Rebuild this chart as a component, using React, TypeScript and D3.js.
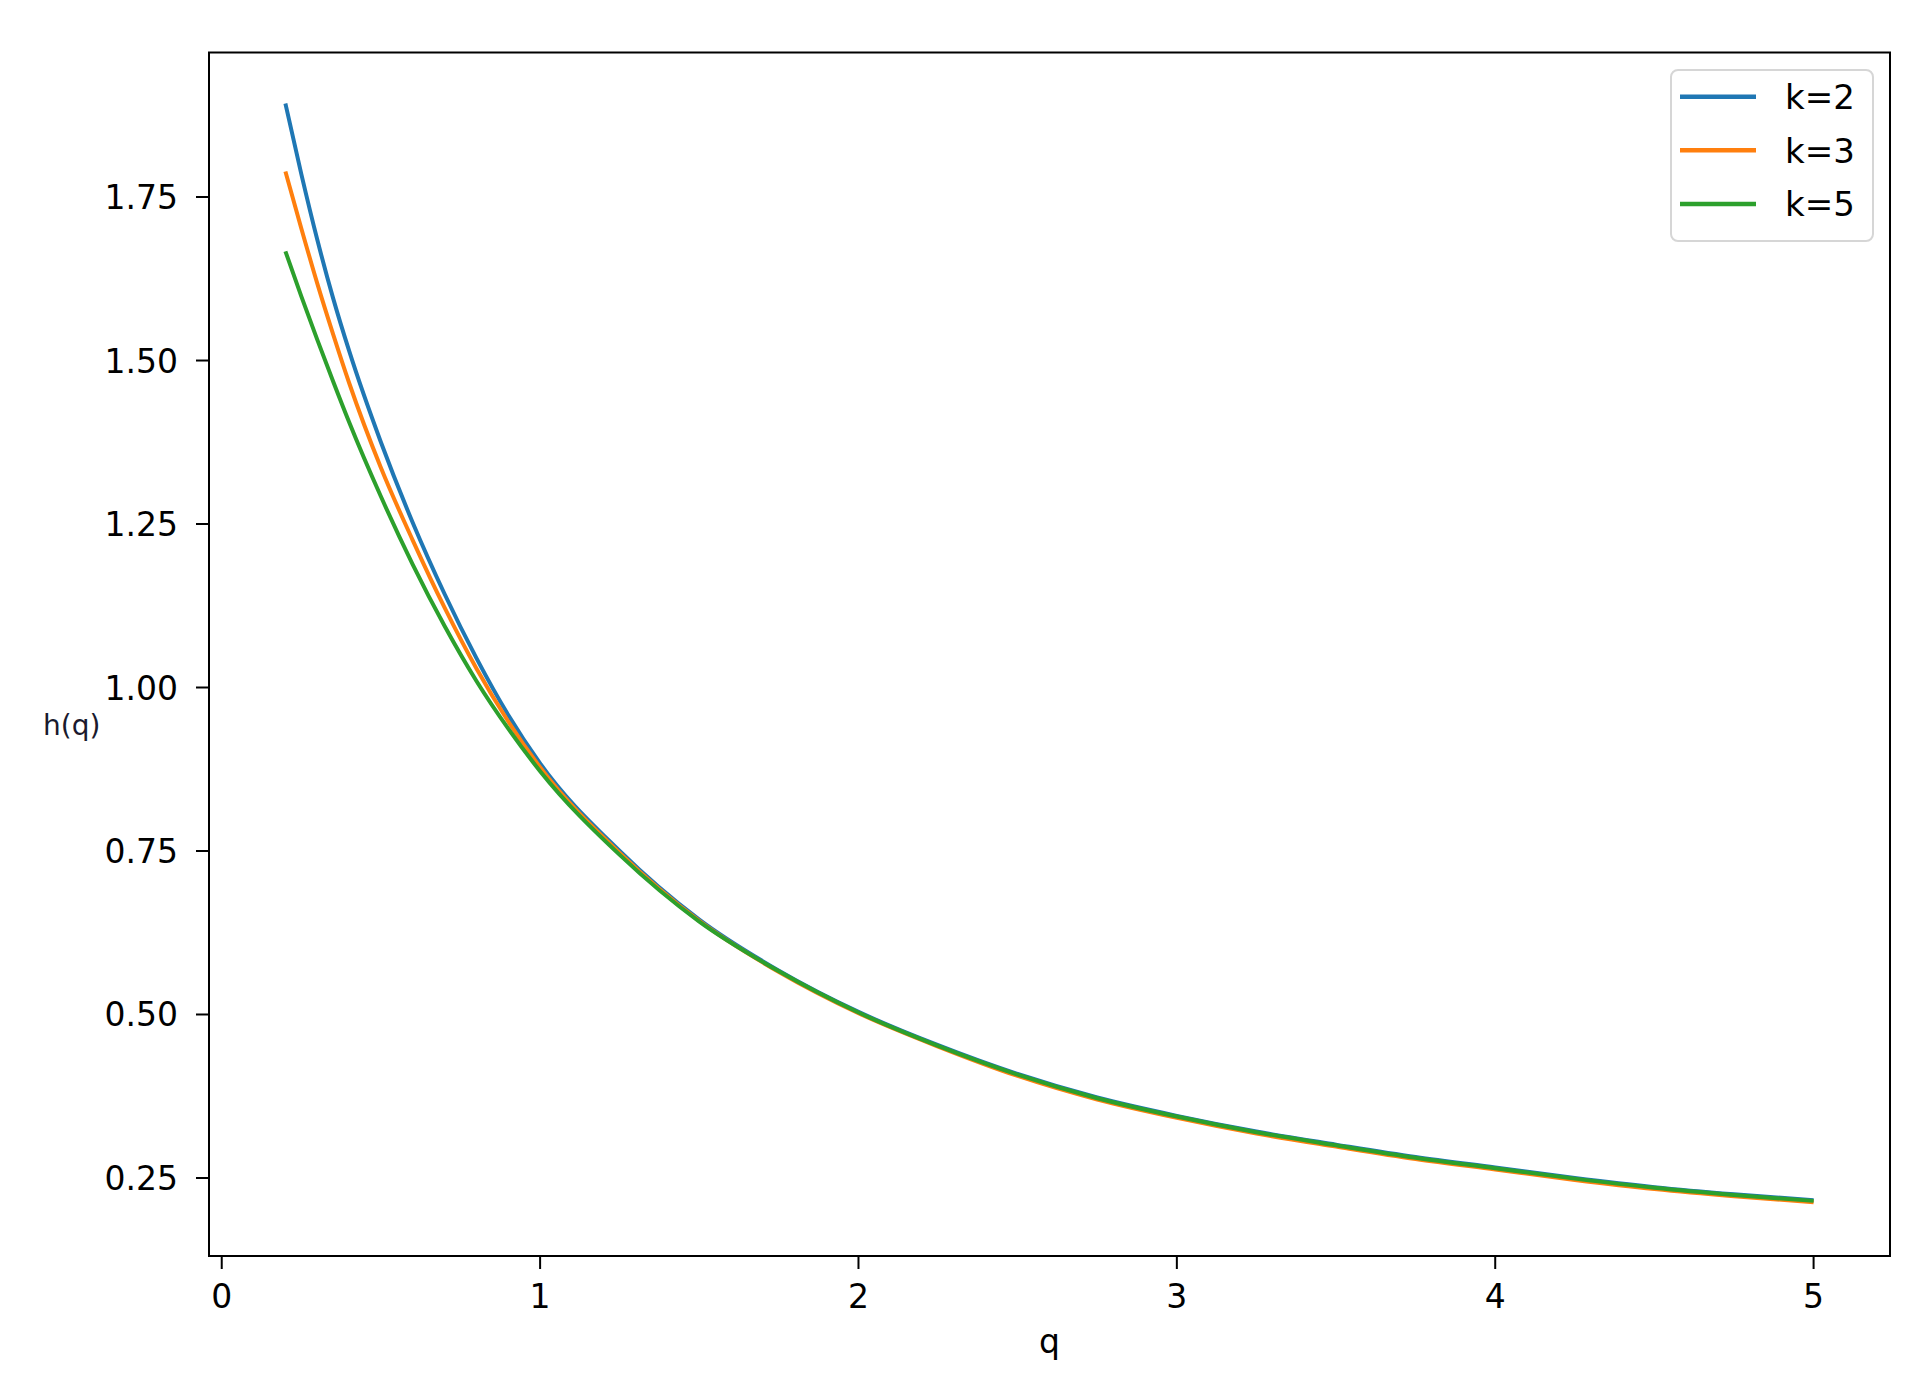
import React from 'react'
import * as d3 from 'd3'

const qValues = [0.2, 0.25, 0.3, 0.35, 0.4, 0.5, 0.6, 0.7, 0.8, 0.9, 1.0, 1.25, 1.5, 1.75, 2.0, 2.25, 2.5, 2.75, 3.0, 3.25, 3.5, 3.75, 4.0, 4.25, 4.5, 4.75, 5.0]

const hK2 = [1.893, 1.785, 1.685, 1.595, 1.515, 1.375, 1.252, 1.143, 1.045, 0.958, 0.884, 0.75, 0.645, 0.567, 0.504, 0.453, 0.409, 0.373, 0.345, 0.321, 0.301, 0.282, 0.266, 0.25, 0.236, 0.225, 0.216]
const hK3 = [1.789, 1.702, 1.618, 1.54, 1.466, 1.336, 1.225, 1.122, 1.029, 0.948, 0.878, 0.747, 0.643, 0.565, 0.502, 0.451, 0.406, 0.37, 0.342, 0.318, 0.298, 0.279, 0.263, 0.247, 0.233, 0.222, 0.213]
const hK5 = [1.667, 1.598, 1.532, 1.468, 1.406, 1.292, 1.188, 1.094, 1.01, 0.937, 0.872, 0.744, 0.642, 0.566, 0.503, 0.452, 0.408, 0.372, 0.344, 0.32, 0.3, 0.281, 0.265, 0.249, 0.235, 0.224, 0.215]

const seriesNames = ['k=2', 'k=3', 'k=5']
const seriesColors = ['#1f77b4', '#ff7f0e', '#2ca02c']
const xTicks = [0, 1, 2, 3, 4, 5]
const yTicks = [0.25, 0.5, 0.75, 1.0, 1.25, 1.5, 1.75]

const W = 1932
const H = 1393
const left = 209
const right = 1890
const top = 52.5
const bottom = 1256
const FONT = 'DejaVu Sans'

const App = () => {
  const x = d3.scaleLinear().domain([-0.04, 5.24]).range([left, right])
  const y = d3.scaleLinear().domain([0.1307, 1.971]).range([bottom, top])

  const series = [hK2, hK3, hK5].map((vals, i) => ({
    name: seriesNames[i],
    color: seriesColors[i],
    points: qValues.map((q, j) => [q, vals[j]] as [number, number]),
  }))

  const line = d3
    .line<[number, number]>()
    .x((d) => x(d[0]))
    .y((d) => y(d[1]))
    .curve(d3.curveMonotoneX)

  return (
    <svg
      width={W}
      height={H}
      style={{ position: 'absolute', left: 0, top: 0, background: '#fff' }}
      fontFamily={FONT}
    >
      <rect x={0} y={0} width={W} height={H} fill="#fff" />

      {/* curves */}
      {series.map((s) => (
        <path key={s.name} d={line(s.points) || ''} fill="none" stroke={s.color} strokeWidth={4} strokeLinejoin="round" />
      ))}

      {/* frame */}
      <rect x={left} y={top} width={right - left} height={bottom - top} fill="none" stroke="#000" strokeWidth={2} />

      {/* x ticks */}
      {xTicks.map((t) => (
        <g key={'x' + t}>
          <line x1={x(t)} x2={x(t)} y1={bottom} y2={bottom + 13} stroke="#000" strokeWidth={2} />
          <text x={x(t)} y={1308} textAnchor="middle" fontSize={33} fill="#000">
            {t}
          </text>
        </g>
      ))}

      {/* y ticks */}
      {yTicks.map((t) => (
        <g key={'y' + t}>
          <line x1={left - 13} x2={left} y1={y(t)} y2={y(t)} stroke="#000" strokeWidth={2} />
          <text x={178} y={y(t) + 12} textAnchor="end" fontSize={33} fill="#000">
            {t.toFixed(2)}
          </text>
        </g>
      ))}

      {/* axis labels */}
      <text x={(left + right) / 2} y={1353} textAnchor="middle" fontSize={33} fill="#000">
        q
      </text>
      <text x={43} y={735} fontSize={28} fill="#1a1a2e">
        h(q)
      </text>

      {/* legend */}
      <rect x={1671} y={70} width={202} height={171} rx={7} fill="#fff" fillOpacity={0.8} stroke="#d6d6d6" strokeWidth={2} />
      {series.map((s, i) => {
        const ly = 96.7 + i * 53.6
        return (
          <g key={'l' + s.name}>
            <line x1={1680} x2={1756} y1={ly} y2={ly} stroke={s.color} strokeWidth={4.5} />
            <text x={1785} y={ly + 12.5} fontSize={34} fill="#000">
              {s.name}
            </text>
          </g>
        )
      })}
    </svg>
  )
}

export default App
